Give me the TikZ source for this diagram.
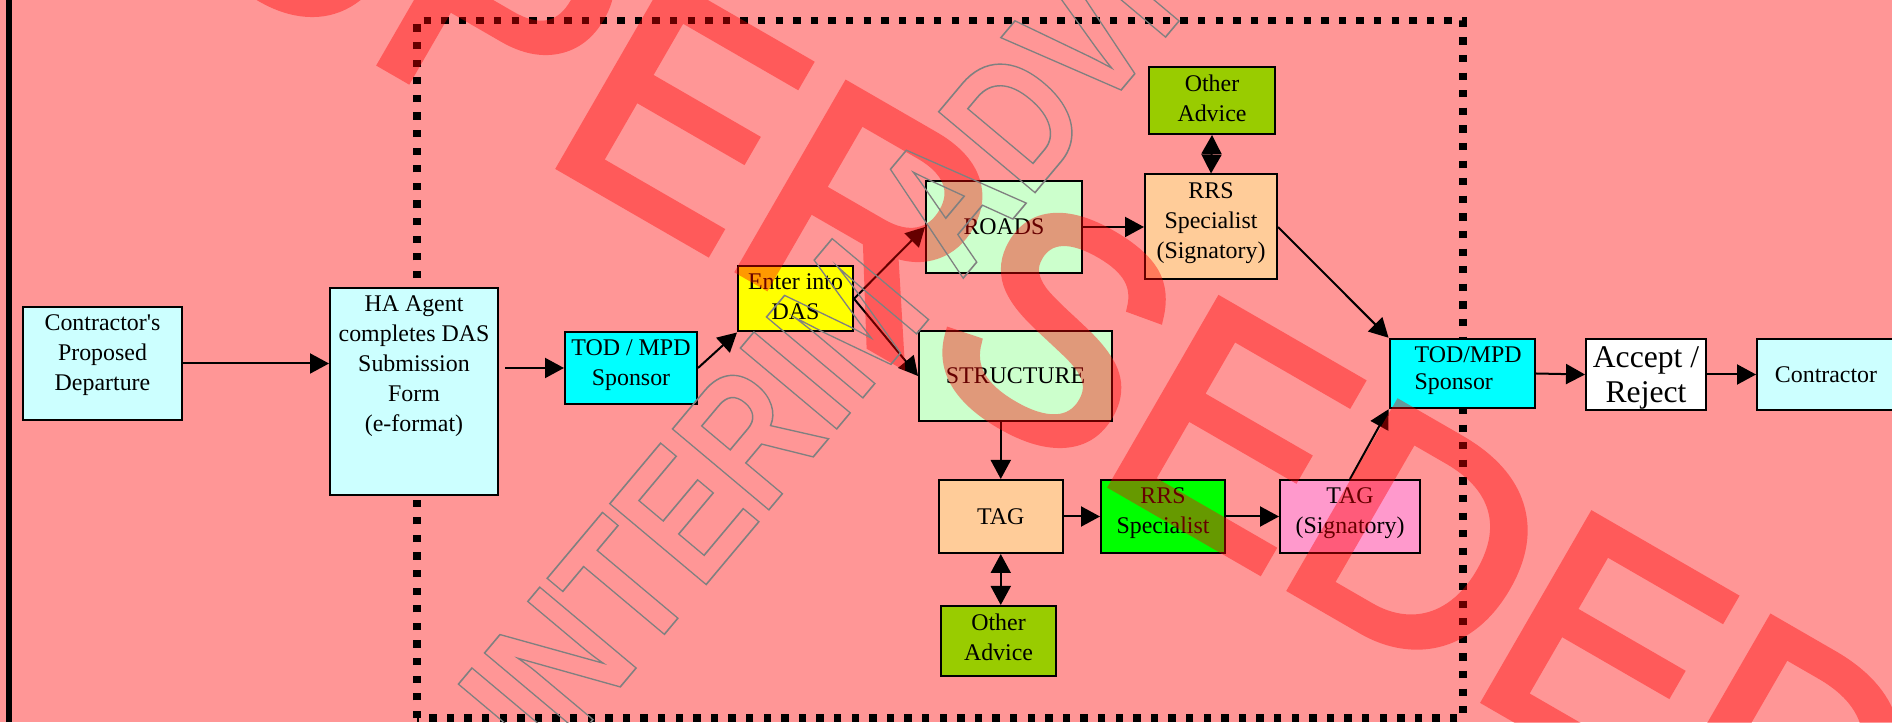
\documentclass[tikz,border=0pt]{standalone}
\usepackage{fontspec}
\setmainfont{Liberation Serif}
\newfontfamily\markfont[FakeBold=3]{Liberation Sans}
\newfontfamily\outlinefont{Liberation Sans}
\usetikzlibrary{arrows.meta, positioning, calc}
\definecolor{bgpink}{HTML}{FF9696}
\definecolor{lightcyan}{HTML}{CCFFFF}
\definecolor{brightcyan}{HTML}{00FFFF}
\definecolor{dasyellow}{HTML}{FFFF00}
\definecolor{lightgreen}{HTML}{CCFFCC}
\definecolor{tan}{HTML}{FFCC99}
\definecolor{olive}{HTML}{99CC00}
\definecolor{brightgreen}{HTML}{00FF00}
\definecolor{signpink}{HTML}{FF99CC}
\definecolor{markgrey}{HTML}{808080}
\newcommand{\boxlines}[3]{\parbox[c][#2][t]{#1}{\centering\vspace*{0.08cm}#3}}
\newcommand{\outlined}[1]{\llap{I\hspace{4cm}}\special{pdf:literal direct 0.5 0.5 0.5 RG 0.45 w 1 Tr}#1\special{pdf:literal direct 0 Tr}}
\tikzset{
	boxnode/.style={
			rectangle,
			draw=black,
			line width=0.02cm,
			inner sep=0pt,
			align=center,
			font=\fontsize{6.8}{8.5}\selectfont
		},
	flow/.style={
			line width=0.02cm,
			-{Triangle[length=0.19cm,width=0.2cm]}
		},
	twoway/.style={
			line width=0.02cm,
			{Triangle[length=0.19cm,width=0.2cm]}-{Triangle[length=0.19cm,width=0.2cm]}
		},
	frameline/.style={
			line width=0.073cm,
			dash pattern=on 0.073cm off 0.103cm
		},
	redmark/.style={
			anchor=base west,
			inner sep=0pt,
			rotate=-30,
			text=red,
			font=\markfont\fontsize{88.2}{90}\selectfont
		},
	greymark/.style={
			anchor=base west,
			inner sep=0pt,
			rotate=50,
			text=markgrey,
			font=\outlinefont\bfseries\fontsize{52}{54}\selectfont
		}
}

\begin{document}
\begin{tikzpicture}
\useasboundingbox (0,0) rectangle (18.92,7.22);
\clip (0,0) rectangle (18.92,7.22);
\fill[bgpink] (0,0) rectangle (18.92,7.22);
\draw[line width=0.06cm] (0.09,0) -- (0.09,7.22);
\draw[frameline] (4.17,0.04) rectangle (14.63,7.013);

\node[boxnode, fill=lightcyan] (contr) at (1.025,3.585) {\boxlines{1.59cm}{1.13cm}{Contractor\textquotesingle s\\Proposed\\Departure}};
\node[boxnode, fill=lightcyan] (ha) at (4.14,3.305) {\boxlines{1.68cm}{2.07cm}{HA Agent\\completes DAS\\Submission\\Form\\(e-format)}};
\node[boxnode, fill=brightcyan] (tod1) at (6.31,3.54) {\boxlines{1.32cm}{0.72cm}{TOD / MPD\\Sponsor}};
\node[boxnode, fill=dasyellow] (das) at (7.955,4.2325) {\boxlines{1.15cm}{0.655cm}{Enter into\\DAS}};
\node[boxnode, fill=lightgreen, minimum width=1.56cm, minimum height=0.92cm] (roads) at (10.04,4.95) {ROADS};
\node[boxnode, fill=lightgreen, minimum width=1.93cm, minimum height=0.9cm] (struct) at (10.155,3.46) {STRUCTURE};
\node[boxnode, fill=olive] (adv1) at (12.12,6.215) {\boxlines{1.26cm}{0.67cm}{Other\\Advice}};
\node[boxnode, fill=tan] (rrs1) at (12.11,4.95) {\boxlines{1.32cm}{1.05cm}{RRS\\Specialist\\(Signatory)}};
\node[boxnode, fill=tan, minimum width=1.235cm, minimum height=0.73cm] (tag1) at (10.0075,2.055) {TAG};
\node[boxnode, fill=brightgreen] (rrs2) at (11.63,2.055) {\boxlines{1.24cm}{0.73cm}{RRS\\Specialist}};
\node[boxnode, fill=signpink] (tag2) at (13.5,2.055) {\boxlines{1.4cm}{0.73cm}{TAG\\(Signatory)}};
\node[boxnode, fill=olive] (adv2) at (9.985,0.81) {\boxlines{1.15cm}{0.7cm}{Other\\Advice}};
\node[boxnode, fill=brightcyan, font=\fontsize{6.8}{7.8}\selectfont] (tod2) at (14.623,3.485) {\parbox[c][0.695cm][t]{1.455cm}{\leftskip=0.25cm\vspace*{0.08cm}TOD/MPD\\Sponsor\par}};
\node[boxnode, fill=white, font=\fontsize{9}{9.8}\selectfont] (accept) at (16.46,3.475) {\boxlines{1.2cm}{0.71cm}{Accept /\\Reject}};
\node[boxnode, fill=lightcyan, minimum width=1.38cm, minimum height=0.71cm] (contr2) at (18.26,3.475) {Contractor};

\draw[flow] (contr.east) -- (contr.east -| ha.west);
\draw[flow, shorten <=0.06cm] (tod1.west -| ha.east) -- (tod1.west);
\draw[flow] (tod1.east) -- (das.south west);
\draw[flow] (das.east) -- (roads.west);
\draw[flow] (das.east) -- (struct.west);
\draw[flow] (roads.east) -- (rrs1.west);
\draw[twoway] (adv1.south) -- (rrs1.north);
\draw[flow] (rrs1.east) -- (tod2.north west);
\draw[flow] (struct.south -| tag1.north) -- (tag1.north);
\draw[twoway] (tag1.south) -- (tag1.south |- adv2.north);
\draw[flow] (tag1.east) -- (rrs2.west);
\draw[flow] (rrs2.east) -- (tag2.west);
\draw[flow] (tag2.north) -- (tod2.south west);
\draw[flow] (tod2.east) -- (accept.west);
\draw[flow] (accept.east) -- (contr2.west);

\begin{scope}[transparency group, opacity=0.4]
\node[redmark] (superseded) at (-0.13,8.865) {SUPERSEDED};
\end{scope}
\node[greymark] (interim) at (5.48,-0.51) {\scalebox{0.8}[1]{\outlined{INTERIM ADVICE}}};
\end{tikzpicture}
\end{document}
